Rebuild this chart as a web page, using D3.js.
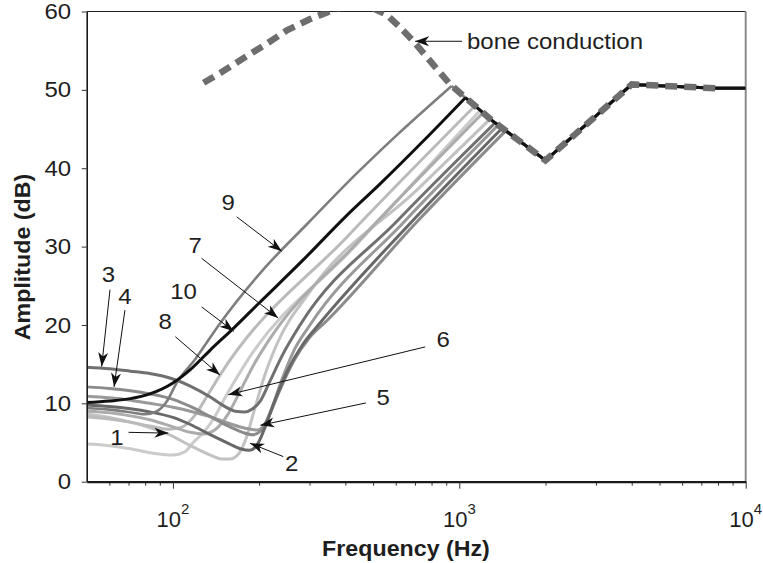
<!DOCTYPE html>
<html>
<head>
<meta charset="utf-8">
<script src="https://cdn.jsdelivr.net/npm/d3@7/dist/d3.min.js"></script>
<style>
html,body{margin:0;padding:0;background:#fff;}
svg text{font-family:"Liberation Sans",Arial,Helvetica,sans-serif;fill:#1e1e1e;}
</style>
</head>
<body>
<svg id="chart" width="763" height="563"></svg>
<script>
// ---------------- data (frequency Hz, amplitude dB) ----------------
const boneConduction = [[128,50.9],[150,52.4],[181,54.3],[215,56.0],[250,57.6],[300,59.0],[363,60.2],[420,60.8],[480,60.7],[558,59.6],[620,58.0],[692,56.2],[812,53.2],[929,50.7],[1300,46.1],[2000,41.0],[4000,50.7],[7900,50.2]];
const airHighEnd = [10000,50.2];

const curve1 = [[50,8.6],[60,8.2],[71,7.6],[83,6.9],[97,6.0],[115,4.6],[135,3.4],[148,2.9],[158,2.9],[170,3.6],[180,5.5],[192,9.0],[208,13.3],[231,17.6],[300,24.2],[715,37.3],[1282,46.3]];
const curve2 = [[50,9.8],[60,9.6],[71,9.3],[83,8.9],[100,8.2],[115,7.3],[135,6.0],[158,4.8],[172,4.2],[185,4.0],[196,4.6],[208,6.6],[225,10.0],[250,14.0],[285,17.6],[322,20.0],[673,32.95],[1410,45.1]];
const curve3 = [[50,14.6],[60,14.4],[71,14.1],[83,13.8],[100,13.1],[115,12.2],[135,10.8],[150,9.7],[165,9.0],[178,8.9],[190,9.3],[202,10.3],[218,12.8],[240,16.0],[278,20.0],[608,33.3],[1334,45.8]];
const curve4 = [[50,12.1],[60,11.9],[71,11.6],[83,11.2],[100,10.5],[115,9.6],[135,8.3],[158,7.0],[175,6.3],[190,6.0],[203,6.5],[216,8.3],[235,11.5],[265,15.5],[300,18.4],[346,20.6],[709,33.1],[1455,44.8]];
const curve5 = [[50,10.9],[60,10.7],[71,10.4],[83,10.0],[100,9.5],[115,9.0],[135,8.3],[158,7.4],[180,6.8],[197,6.6],[208,7.2],[222,9.5],[240,13.0],[265,16.8],[301,20.0],[641,33.15],[1366,45.5]];
const curve6 = [[50,4.8],[60,4.6],[71,4.2],[83,3.7],[100,3.4],[110,3.8],[117,4.9],[128,6.3],[138,7.9],[153,10.9],[180,15.2],[426,29.8],[1183,47.4]];
const curve7 = [[50,9.0],[60,8.8],[71,8.4],[83,7.9],[100,7.0],[115,6.3],[128,6.1],[140,6.6],[155,8.5],[172,11.6],[192,15.0],[215,17.9],[440,30.5],[1212,47.1]];
const curve8 = [[50,8.3],[60,8.0],[71,7.6],[83,7.1],[97,6.7],[108,7.0],[120,8.6],[132,11.0],[146,13.6],[407,31.3],[1137,48.0]];
const curve9 = [[50,9.4],[60,9.2],[70,8.9],[80,8.6],[88,9.0],[95,10.2],[103,12.6],[120,15.7],[146,20.2],[206,27.0],[300,33.2],[440,39.4],[600,44.1],[940,50.5]];
const curve10 = [[50,10.1],[60,10.3],[71,10.6],[83,11.2],[100,12.6],[115,14.3],[135,16.8],[163,19.6],[200,22.8],[285,28.3],[400,33.8],[529,38.0],[750,43.5],[1050,49.0]];

const yTicks = [0,10,20,30,40,50,60];
const xMajorTicks = [100,1000,10000];
const xMajorExponents = ["2","3","4"];
const xMinorTicks = [60,70,80,90,200,300,400,500,600,700,800,900,2000,3000,4000,5000,6000,7000,8000,9000];

const xTitle = "Frequency (Hz)";
const yTitle = "Amplitude (dB)";

// annotation labels: text centre, arrow start, arrow tip (Hz, dB)
const annLabels = ["9","7","10","8","3","4","6","5","1","2"];
const annTextAt = [[156,35.6],[119.5,30.2],[109,24.3],[94,20.4],[59.5,26.4],[68,23.6],[878,18.1],[542,10.8],[63.7,5.7],[260,2.35]];
const annFrom   = [[167,33.8],[126,28.5],[126,22.3],[102,18.5],[60.3,24.5],[68,21.9],[760,17.2],[472,10.05],[70,6.3],[243,3.2]];
const annTo     = [[240,29.4],[233,20.9],[163,19.2],[146,13.6],[56.4,14.7],[62.3,12.1],[156,11.1],[202,7.2],[96.4,6.2],[186,4.9]];
const boneLabel = "bone conduction";
const boneLabelAt = [1064,56.2];
const boneArrow = [[1023,56.2],[701,56.2]];

// ---------------- drawing ----------------
const svg = d3.select("#chart");
const x = d3.scaleLog().domain([50,10000]).range([86.7,745.7]);
const y = d3.scaleLinear().domain([0,60]).range([481.7,11.5]);
const STRETCH = 1.09;

function stretch(sel,f){
  sel.each(function(){
    const w=this.getComputedTextLength();
    d3.select(this).attr("textLength",w*f).attr("lengthAdjust","spacingAndGlyphs");
  });
}

const defs = svg.append("defs");
defs.append("clipPath").attr("id","plotclip").append("rect")
  .attr("x",x.range()[0]).attr("y",y.range()[1])
  .attr("width",x.range()[1]-x.range()[0]).attr("height",y.range()[0]-y.range()[1]);
defs.append("marker").attr("id","arrow").attr("markerUnits","userSpaceOnUse")
  .attr("viewBox","-14 -6 15 12").attr("refX",0).attr("refY",0)
  .attr("markerWidth",15).attr("markerHeight",12).attr("orient","auto")
  .append("path").attr("d","M0,0 L-14,-5 L-10,0 L-14,5 Z").attr("fill","#111");

// frame: top and right border
svg.append("line").attr("x1",x.range()[0]).attr("x2",x.range()[1]).attr("y1",y.range()[1]).attr("y2",y.range()[1])
  .attr("stroke","#222").attr("stroke-width",1.2);
svg.append("line").attr("x1",x.range()[1]).attr("x2",x.range()[1]).attr("y1",y.range()[1]).attr("y2",y.range()[0])
  .attr("stroke","#8a8a8a").attr("stroke-width",2);

// curves
const smooth = d3.line().x(d=>x(d[0])).y(d=>y(d[1])).curve(d3.curveMonotoneX);
const straight = d3.line().x(d=>x(d[0])).y(d=>y(d[1]));
function tail(pts){
  const last = pts[pts.length-1];
  return [last].concat(boneConduction.filter(d=>d[0]>last[0]), [airHighEnd]);
}
const series = [
  {data:curve6, color:"#cbcbcb", w:3},
  {data:curve1, color:"#c2c2c2", w:3},
  {data:curve8, color:"#bbbbbb", w:3},
  {data:curve7, color:"#acacac", w:3},
  {data:curve5, color:"#9a9a9a", w:3},
  {data:curve4, color:"#8b8b8b", w:3},
  {data:curve3, color:"#707070", w:3},
  {data:curve2, color:"#686868", w:3},
  {data:curve9, color:"#7e7e7e", w:2.6},
  {data:curve10, color:"#111111", w:3}
];
const g = svg.append("g").attr("clip-path","url(#plotclip)");
series.forEach(s=>{
  g.append("path").attr("d",smooth(s.data)).attr("fill","none")
   .attr("stroke",s.color).attr("stroke-width",s.w).attr("stroke-linejoin","round");
  g.append("path").attr("d",straight(tail(s.data))).attr("fill","none")
   .attr("stroke",s.color).attr("stroke-width",s.w).attr("stroke-linejoin","round");
});
g.append("path").attr("d",straight(boneConduction)).attr("fill","none")
  .attr("stroke","#6e6e6e").attr("stroke-width",6.5).attr("stroke-dasharray","12,7");

// axes
const xAxisMinor = d3.axisBottom(x).tickValues(xMinorTicks).tickSize(4).tickSizeOuter(0).tickFormat("");
const xAxisMajor = d3.axisBottom(x).tickValues(xMajorTicks).tickSize(7).tickSizeOuter(0).tickFormat("");
const gxm = svg.append("g").attr("transform",`translate(0,${y.range()[0]})`).call(xAxisMinor);
const gx = svg.append("g").attr("transform",`translate(0,${y.range()[0]})`).call(xAxisMajor);
[gxm,gx].forEach(a=>{a.select(".domain").attr("stroke","#1a1a1a").attr("stroke-width",2.2);a.selectAll(".tick line").attr("stroke","#333").attr("stroke-width",1);});
gxm.select(".domain").remove();

const xl = svg.append("g");
xMajorTicks.forEach((v,i)=>{
  const t = xl.append("text").attr("x",x(v)).attr("y",527).attr("text-anchor","middle").style("font-size","22px");
  t.append("tspan").text("10");
  t.append("tspan").attr("dy",-13).style("font-size","15px").text(xMajorExponents[i]);
});

const yAxis = d3.axisLeft(y).tickValues(yTicks).tickSize(5).tickSizeOuter(0).tickPadding(10.5);
const gy = svg.append("g").attr("transform",`translate(${x.range()[0]},0)`).call(yAxis);
gy.select(".domain").attr("stroke","#1a1a1a").attr("stroke-width",1.6);
gy.selectAll(".tick line").attr("stroke","#333");
gy.selectAll(".tick text").style("font-size","22px").attr("fill","#1e1e1e")
  .style("font-family",'"Liberation Sans",Arial,sans-serif');
stretch(gy.selectAll(".tick text"),STRETCH);

// titles
svg.append("text").attr("x",406).attr("y",556).attr("text-anchor","middle")
  .style("font-size","21.5px").style("font-weight","bold").text(xTitle)
  .call(s=>stretch(s,1.08));
svg.append("text").attr("transform","translate(30,257) rotate(-90)").attr("text-anchor","middle")
  .style("font-size","21.5px").style("font-weight","bold").text(yTitle)
  .call(s=>stretch(s,1.08));

// annotations
const ga = svg.append("g");
annLabels.forEach((lab,i)=>{
  ga.append("line")
    .attr("x1",x(annFrom[i][0])).attr("y1",y(annFrom[i][1]))
    .attr("x2",x(annTo[i][0])).attr("y2",y(annTo[i][1]))
    .attr("stroke","#111").attr("stroke-width",1).attr("marker-end","url(#arrow)");
  ga.append("text").attr("x",x(annTextAt[i][0])).attr("y",y(annTextAt[i][1]))
    .attr("text-anchor","middle").attr("dominant-baseline","central")
    .style("font-size","22px").text(lab).call(s=>stretch(s,STRETCH));
});
ga.append("line")
  .attr("x1",x(boneArrow[0][0])).attr("y1",y(boneArrow[0][1]))
  .attr("x2",x(boneArrow[1][0])).attr("y2",y(boneArrow[1][1]))
  .attr("stroke","#111").attr("stroke-width",1).attr("marker-end","url(#arrow)");
ga.append("text").attr("x",x(boneLabelAt[0])).attr("y",y(boneLabelAt[1]))
  .attr("dominant-baseline","central").style("font-size","22px").text(boneLabel)
  .call(s=>stretch(s,STRETCH));
</script>
</body>
</html>
